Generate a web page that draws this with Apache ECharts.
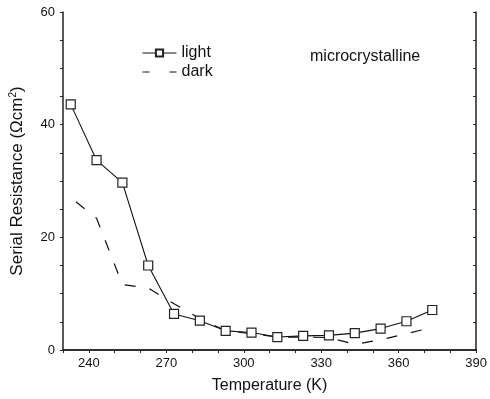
<!DOCTYPE html>
<html>
<head>
<meta charset="utf-8">
<script src="https://cdn.jsdelivr.net/npm/echarts@6/dist/echarts.min.js"></script>
<style>
  html, body { margin: 0; padding: 0; background: #fff; }
  #chart { width: 490px; height: 399px; }
</style>
</head>
<body>
<div id="chart"></div>
<script>
// temperatures (K) and serial resistance (Ohm cm^2)
const lightTemps = [233, 243, 253, 263, 273, 283, 293, 303, 313, 323, 333, 343, 353, 363, 373];
const lightValues = [43.6, 33.7, 29.7, 15.0, 6.4, 5.2, 3.4, 3.1, 2.3, 2.5, 2.6, 3.0, 3.8, 5.1, 7.1];
const darkTemps = [235, 243, 253, 263, 273, 283, 293, 303, 313, 323, 333, 343, 353, 363, 373];
const darkValues = [26.3, 23.4, 11.6, 11.0, 8.2, 5.6, 3.4, 2.9, 2.3, 2.3, 2.2, 1.0, 1.8, 2.9, 4.0];
const xTickLabels = [240, 270, 300, 330, 360, 390];
const yTickLabels = [0, 20, 40, 60];

const font = "'Liberation Sans', Arial, sans-serif";
const axisColor = "#222";

const chart = echarts.init(document.getElementById("chart"));

const pairs = (xs, ys) => xs.map((x, i) => [x, ys[i]]);

const options = {
  animation: false,
  textStyle: { fontFamily: font, color: "#111" },
  grid: { left: 62, right: 9, top: 12, bottom: 49 },
  legend: {
    left: 142,
    top: 45,
    padding: 0,
    orient: "vertical",
    itemWidth: 34,
    itemHeight: 9,
    itemGap: 3,
    textStyle: { fontFamily: font, fontSize: 16, color: "#111" },
    data: [
      { name: "light", lineStyle: { width: 1 } },
      {
        name: "dark",
        itemStyle: { opacity: 0 },
        lineStyle: { width: 1, type: [7, 20] },
      },
    ],
  },
  xAxis: [
    {
      type: "value",
      min: 230,
      max: 390,
      interval: 10,
      name: "Temperature (K)",
      nameLocation: "middle",
      nameGap: 28,
      nameTextStyle: { fontFamily: font, fontSize: 16, color: "#111" },
      axisLine: { lineStyle: { color: axisColor, width: 1.5 } },
      axisTick: { length: 3, lineStyle: { color: axisColor } },
      axisLabel: {
        fontFamily: font,
        fontSize: 13,
        color: "#111",
        margin: 7,
        formatter: (v) => (xTickLabels.includes(v) ? String(v) : ""),
      },
      splitLine: { show: false },
    },
    {
      type: "value",
      min: 230,
      max: 390,
      interval: 10,
      position: "top",
      axisLine: { lineStyle: { color: axisColor, width: 1.5 } },
      axisTick: { inside: true, length: 3, lineStyle: { color: axisColor } },
      axisLabel: { show: false },
      splitLine: { show: false },
    },
  ],
  yAxis: [
    {
      type: "value",
      min: 0,
      max: 60,
      interval: 5,
      name: "{a|Serial Resistance (Ωcm}{s|2}{a|)}",
      nameLocation: "middle",
      nameGap: 36,
      nameTextStyle: {
        fontFamily: font,
        fontSize: 17,
        color: "#111",
        rich: {
          a: { fontFamily: font, fontSize: 17, color: "#111" },
          s: { fontFamily: font, fontSize: 10, color: "#111", padding: [0, 0, 9, 0] },
        },
      },
      axisLine: { show: true, lineStyle: { color: axisColor, width: 1.5 } },
      axisTick: { show: true, length: 3, lineStyle: { color: axisColor } },
      axisLabel: {
        fontFamily: font,
        fontSize: 13,
        color: "#111",
        margin: 8,
        formatter: (v) => (yTickLabels.includes(v) ? String(v) : ""),
      },
      splitLine: { show: false },
    },
    {
      type: "value",
      min: 0,
      max: 60,
      interval: 5,
      position: "right",
      axisLine: { show: true, lineStyle: { color: axisColor, width: 1.5 } },
      axisTick: { show: true, inside: true, length: 3, lineStyle: { color: axisColor } },
      axisLabel: { show: false },
      splitLine: { show: false },
    },
  ],
  series: [
    {
      name: "light",
      type: "line",
      data: pairs(lightTemps, lightValues),
      symbol: "rect",
      symbolSize: 9,
      itemStyle: { color: "#fff", borderColor: "#222", borderWidth: 1.2 },
      lineStyle: { color: "#111", width: 1.1 },
      z: 3,
    },
    {
      name: "dark",
      type: "line",
      data: pairs(darkTemps, darkValues),
      symbol: "none",
      itemStyle: { color: "#111" },
      lineStyle: { color: "#111", width: 1.2, type: [11, 14] },
      z: 2,
    },
  ],
  graphic: [
    {
      type: "text",
      left: 310,
      top: 49,
      style: {
        text: "microcrystalline",
        font: "16px " + font,
        fill: "#111",
      },
    },
  ],
};

chart.setOption(options);
</script>
</body>
</html>
